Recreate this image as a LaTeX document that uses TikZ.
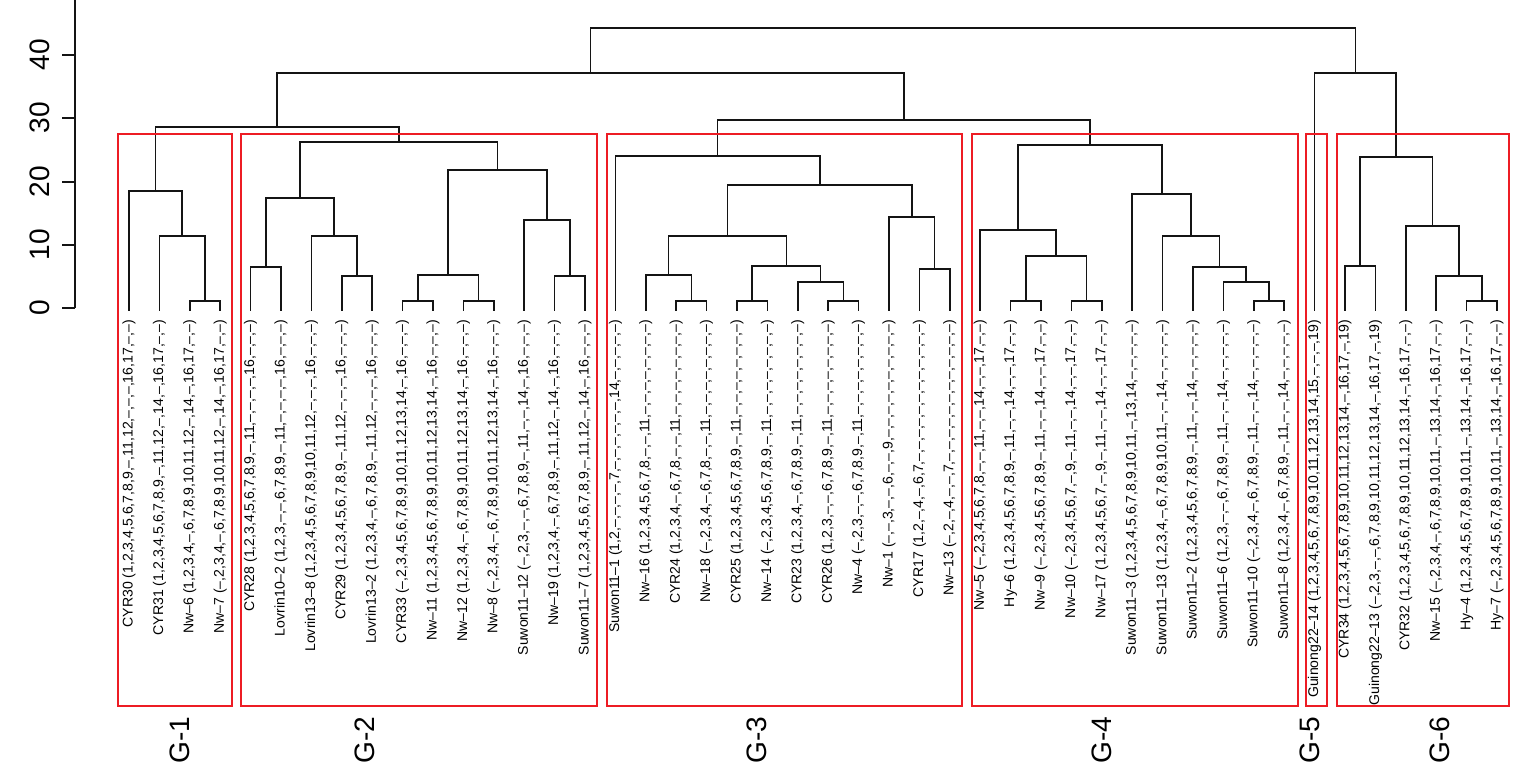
\documentclass[tikz,border=0pt]{standalone}
\usepackage{fontspec}
\setmainfont{Liberation Sans}
\usetikzlibrary{positioning}
\definecolor{boxred}{RGB}{237,28,36}
\definecolor{treeblack}{RGB}{20,20,20}

\begin{document}
\begin{tikzpicture}[x=0.02cm, y=-0.02cm,
  leaf/.style={rotate=90, anchor=east, inner xsep=5pt, inner ysep=0pt, outer sep=0pt, font=\fontsize{8}{9}\selectfont},
  branch/.style={line width=1pt, draw=treeblack},
  grpbox/.style={draw=boxred, line width=1pt},
  grplabel/.style={rotate=90, font=\fontsize{16}{19}\selectfont},
  ticklabel/.style={rotate=90, font=\fontsize{16}{19}\selectfont}]
\useasboundingbox (0,0) rectangle (1535,776);

% height axis
\draw[branch] (75,0) -- (75,308);
\draw[branch] (75,308) -- (62,308);
\draw[branch] (75,245) -- (62,245);
\draw[branch] (75,182) -- (62,182);
\draw[branch] (75,118) -- (62,118);
\draw[branch] (75,55) -- (62,55);
\node[ticklabel] (y0) at (40,308) {0};
\node[ticklabel] (y10) at (40,245) {10};
\node[ticklabel] (y20) at (40,182) {20};
\node[ticklabel] (y30) at (40,118) {30};
\node[ticklabel] (y40) at (40,55) {40};

% leaves
\node[leaf] (cyr30) at (129,311) {CYR30 (1,2,3,4,5,6,7,8,9,--,11,12,--,--,--,16,17,--,--)};
\node[leaf] (cyr31) at (159.4,311) {CYR31 (1,2,3,4,5,6,7,8,9,--,11,12,--,14,--,16,17,--,--)};
\node[leaf] (nw6) at (189.8,311) {Nw--6 (1,2,3,4,--,6,7,8,9,10,11,12,--,14,--,16,17,--,--)};
\node[leaf] (nw7) at (220.2,311) {Nw--7 (--,2,3,4,--,6,7,8,9,10,11,12,--,14,--,16,17,--,--)};
\node[leaf] (cyr28) at (250.6,311) {CYR28 (1,2,3,4,5,6,7,8,9,--,11,--,--,--,--,16,--,--,--)};
\node[leaf] (lov102) at (281,311) {Lovrin10--2 (1,2,3,--,--,6,7,8,9,--,11,--,--,--,--,16,--,--,--)};
\node[leaf] (lov138) at (311.4,311) {Lovrin13--8 (1,2,3,4,5,6,7,8,9,10,11,12,--,--,--,16,--,--,--)};
\node[leaf] (cyr29) at (341.8,311) {CYR29 (1,2,3,4,5,6,7,8,9,--,11,12,--,--,--,16,--,--,--)};
\node[leaf] (lov132) at (372.2,311) {Lovrin13--2 (1,2,3,4,--,6,7,8,9,--,11,12,--,--,--,16,--,--,--)};
\node[leaf] (cyr33) at (402.6,311) {CYR33 (--,2,3,4,5,6,7,8,9,10,11,12,13,14,--,16,--,--,--)};
\node[leaf] (nw11) at (433,311) {Nw--11 (1,2,3,4,5,6,7,8,9,10,11,12,13,14,--,16,--,--,--)};
\node[leaf] (nw12) at (463.4,311) {Nw--12 (1,2,3,4,--,6,7,8,9,10,11,12,13,14,--,16,--,--,--)};
\node[leaf] (nw8) at (493.8,311) {Nw--8 (--,2,3,4,--,6,7,8,9,10,11,12,13,14,--,16,--,--,--)};
\node[leaf] (su1112) at (524.2,311) {Suwon11--12 (--,2,3,--,--,6,7,8,9,--,11,--,--,14,--,16,--,--,--)};
\node[leaf] (nw19) at (554.6,311) {Nw--19 (1,2,3,4,--,6,7,8,9,--,11,12,--,14,--,16,--,--,--)};
\node[leaf] (su117) at (585,311) {Suwon11--7 (1,2,3,4,5,6,7,8,9,--,11,12,--,14,--,16,--,--,--)};
\node[leaf] (su111) at (615.4,311) {Suwon11--1 (1,2,--,--,--,--,7,--,--,--,--,--,--,14,--,--,--,--,--)};
\node[leaf] (nw16) at (645.8,311) {Nw--16 (1,2,3,4,5,6,7,8,--,--,11,--,--,--,--,--,--,--,--)};
\node[leaf] (cyr24) at (676.2,311) {CYR24 (1,2,3,4,--,6,7,8,--,--,11,--,--,--,--,--,--,--,--)};
\node[leaf] (nw18) at (706.6,311) {Nw--18 (--,2,3,4,--,6,7,8,--,--,11,--,--,--,--,--,--,--,--)};
\node[leaf] (cyr25) at (737,311) {CYR25 (1,2,3,4,5,6,7,8,9,--,11,--,--,--,--,--,--,--,--)};
\node[leaf] (nw14) at (767.4,311) {Nw--14 (--,2,3,4,5,6,7,8,9,--,11,--,--,--,--,--,--,--,--)};
\node[leaf] (cyr23) at (797.8,311) {CYR23 (1,2,3,4,--,6,7,8,9,--,11,--,--,--,--,--,--,--,--)};
\node[leaf] (cyr26) at (828.2,311) {CYR26 (1,2,3,--,--,6,7,8,9,--,11,--,--,--,--,--,--,--,--)};
\node[leaf] (nw4) at (858.6,311) {Nw--4 (--,2,3,--,--,6,7,8,9,--,11,--,--,--,--,--,--,--,--)};
\node[leaf] (nw1) at (889,311) {Nw--1 (--,--,3,--,--,6,--,--,9,--,--,--,--,--,--,--,--,--,--)};
\node[leaf] (cyr17) at (919.4,311) {CYR17 (1,2,--,4,--,6,7,--,--,--,--,--,--,--,--,--,--,--,--)};
\node[leaf] (nw13) at (949.8,311) {Nw--13 (--,2,--,4,--,--,7,--,--,--,--,--,--,--,--,--,--,--,--)};
\node[leaf] (nw5) at (980.2,311) {Nw--5 (--,2,3,4,5,6,7,8,--,--,11,--,--,14,--,--,17,--,--)};
\node[leaf] (hy6) at (1010.6,311) {Hy--6 (1,2,3,4,5,6,7,8,9,--,11,--,--,14,--,--,17,--,--)};
\node[leaf] (nw9) at (1041,311) {Nw--9 (--,2,3,4,5,6,7,8,9,--,11,--,--,14,--,--,17,--,--)};
\node[leaf] (nw10) at (1071.4,311) {Nw--10 (--,2,3,4,5,6,7,--,9,--,11,--,--,14,--,--,17,--,--)};
\node[leaf] (nw17) at (1101.8,311) {Nw--17 (1,2,3,4,5,6,7,--,9,--,11,--,--,14,--,--,17,--,--)};
\node[leaf] (su113) at (1132.2,311) {Suwon11--3 (1,2,3,4,5,6,7,8,9,10,11,--,13,14,--,--,--,--,--)};
\node[leaf] (su1113) at (1162.6,311) {Suwon11--13 (1,2,3,4,--,6,7,8,9,10,11,--,--,14,--,--,--,--,--)};
\node[leaf] (su112) at (1193,311) {Suwon11--2 (1,2,3,4,5,6,7,8,9,--,11,--,--,14,--,--,--,--,--)};
\node[leaf] (su116) at (1223.4,311) {Suwon11--6 (1,2,3,--,--,6,7,8,9,--,11,--,--,14,--,--,--,--,--)};
\node[leaf] (su1110) at (1253.8,311) {Suwon11--10 (--,2,3,4,--,6,7,8,9,--,11,--,--,14,--,--,--,--,--)};
\node[leaf] (su118) at (1284.2,311) {Suwon11--8 (1,2,3,4,--,6,7,8,9,--,11,--,--,14,--,--,--,--,--)};
\node[leaf] (gu2214) at (1314.6,311) {Guinong22--14 (1,2,3,4,5,6,7,8,9,10,11,12,13,14,15,--,--,--,19)};
\node[leaf] (cyr34) at (1345,311) {CYR34 (1,2,3,4,5,6,7,8,9,10,11,12,13,14,--,16,17,--,19)};
\node[leaf] (gu2213) at (1375.4,311) {Guinong22--13 (--,2,3,--,--,6,7,8,9,10,11,12,13,14,--,16,17,--,19)};
\node[leaf] (cyr32) at (1405.8,311) {CYR32 (1,2,3,4,5,6,7,8,9,10,11,12,13,14,--,16,17,--,--)};
\node[leaf] (nw15) at (1436.2,311) {Nw--15 (--,2,3,4,--,6,7,8,9,10,11,--,13,14,--,16,17,--,--)};
\node[leaf] (hy4) at (1466.6,311) {Hy--4 (1,2,3,4,5,6,7,8,9,10,11,--,13,14,--,16,17,--,--)};
\node[leaf] (hy7) at (1497,311) {Hy--7 (--,2,3,4,5,6,7,8,9,10,11,--,13,14,--,16,17,--,--)};

% G-1 clusters
\coordinate (g1a) at (205,301);
\coordinate (g1b) at (182.2,236);
\coordinate (g1c) at (155.6,191);
\draw[branch] (nw6.east) |- (g1a) -| (nw7.east);
\draw[branch] (cyr31.east) |- (g1b) -| (g1a);
\draw[branch] (cyr30.east) |- (g1c) -| (g1b);

% G-2 clusters
\coordinate (g2a) at (265.8,267);
\coordinate (g2b) at (357,276);
\coordinate (g2c) at (334.2,236);
\coordinate (g2d) at (300,198);
\coordinate (g2e) at (417.8,301);
\coordinate (g2f) at (478.6,301);
\coordinate (g2g) at (448.2,275);
\coordinate (g2h) at (569.8,276);
\coordinate (g2i) at (547,220);
\coordinate (g2j) at (497.6,170);
\coordinate (g2k) at (398.8,142);
\draw[branch] (cyr28.east) |- (g2a) -| (lov102.east);
\draw[branch] (cyr29.east) |- (g2b) -| (lov132.east);
\draw[branch] (lov138.east) |- (g2c) -| (g2b);
\draw[branch] (g2a) |- (g2d) -| (g2c);
\draw[branch] (cyr33.east) |- (g2e) -| (nw11.east);
\draw[branch] (nw12.east) |- (g2f) -| (nw8.east);
\draw[branch] (g2e) |- (g2g) -| (g2f);
\draw[branch] (nw19.east) |- (g2h) -| (su117.east);
\draw[branch] (su1112.east) |- (g2i) -| (g2h);
\draw[branch] (g2g) |- (g2j) -| (g2i);
\draw[branch] (g2d) |- (g2k) -| (g2j);

% G-3 clusters
\coordinate (g3a) at (691.4,301);
\coordinate (g3b) at (668.6,275);
\coordinate (g3c) at (752.2,301);
\coordinate (g3d) at (843.4,301);
\coordinate (g3e) at (820.6,282);
\coordinate (g3f) at (786.4,266);
\coordinate (g3g) at (727.5,236);
\coordinate (g3h) at (934.6,269);
\coordinate (g3i) at (911.8,217);
\coordinate (g3j) at (819.7,185);
\coordinate (g3k) at (717.5,156);
\draw[branch] (cyr24.east) |- (g3a) -| (nw18.east);
\draw[branch] (nw16.east) |- (g3b) -| (g3a);
\draw[branch] (cyr25.east) |- (g3c) -| (nw14.east);
\draw[branch] (cyr26.east) |- (g3d) -| (nw4.east);
\draw[branch] (cyr23.east) |- (g3e) -| (g3d);
\draw[branch] (g3c) |- (g3f) -| (g3e);
\draw[branch] (g3b) |- (g3g) -| (g3f);
\draw[branch] (cyr17.east) |- (g3h) -| (nw13.east);
\draw[branch] (nw1.east) |- (g3i) -| (g3h);
\draw[branch] (g3g) |- (g3j) -| (g3i);
\draw[branch] (su111.east) |- (g3k) -| (g3j);

% G-4 clusters
\coordinate (g4a) at (1025.8,301);
\coordinate (g4b) at (1086.6,301);
\coordinate (g4c) at (1056.2,256);
\coordinate (g4d) at (1018.2,230);
\coordinate (g4e) at (1269,301);
\coordinate (g4f) at (1246.2,282);
\coordinate (g4g) at (1219.6,267);
\coordinate (g4h) at (1191.1,236);
\coordinate (g4i) at (1161.7,194);
\coordinate (g4j) at (1089.9,145);
\draw[branch] (hy6.east) |- (g4a) -| (nw9.east);
\draw[branch] (nw10.east) |- (g4b) -| (nw17.east);
\draw[branch] (g4a) |- (g4c) -| (g4b);
\draw[branch] (nw5.east) |- (g4d) -| (g4c);
\draw[branch] (su1110.east) |- (g4e) -| (su118.east);
\draw[branch] (su116.east) |- (g4f) -| (g4e);
\draw[branch] (su112.east) |- (g4g) -| (g4f);
\draw[branch] (su1113.east) |- (g4h) -| (g4g);
\draw[branch] (su113.east) |- (g4i) -| (g4h);
\draw[branch] (g4d) |- (g4j) -| (g4i);

% G-6 clusters
\coordinate (g6a) at (1481.8,301);
\coordinate (g6b) at (1459,276);
\coordinate (g6c) at (1432.4,226);
\coordinate (g6d) at (1360.2,266);
\coordinate (g6e) at (1396.3,157);
\draw[branch] (hy4.east) |- (g6a) -| (hy7.east);
\draw[branch] (nw15.east) |- (g6b) -| (g6a);
\draw[branch] (cyr32.east) |- (g6c) -| (g6b);
\draw[branch] (cyr34.east) |- (g6d) -| (gu2213.east);
\draw[branch] (g6d) |- (g6e) -| (g6c);

% upper joins
\coordinate (g12) at (277.2,127);
\coordinate (g34) at (903.7,120);
\coordinate (left) at (590.5,73);
\coordinate (right) at (1355.5,73);
\coordinate (root) at (973,28);
\draw[branch] (g1c) |- (g12) -| (g2k);
\draw[branch] (g3k) |- (g34) -| (g4j);
\draw[branch] (g12) |- (left) -| (g34);
\draw[branch] (gu2214.east) |- (right) -| (g6e);
\draw[branch] (left) |- (root) -| (right);

% group boxes
\draw[grpbox] (118,134) rectangle (232,706);
\draw[grpbox] (241,134) rectangle (597,706);
\draw[grpbox] (607,134) rectangle (962,706);
\draw[grpbox] (972,134) rectangle (1298,706);
\draw[grpbox] (1306,134) rectangle (1327,706);
\draw[grpbox] (1337,134) rectangle (1509,706);
\node[grplabel] (lab1) at (180,740) {G-1};
\node[grplabel] (lab2) at (365,740) {G-2};
\node[grplabel] (lab3) at (757,740) {G-3};
\node[grplabel] (lab4) at (1102,740) {G-4};
\node[grplabel] (lab5) at (1310,740) {G-5};
\node[grplabel] (lab6) at (1440,740) {G-6};
\end{tikzpicture}
\end{document}
